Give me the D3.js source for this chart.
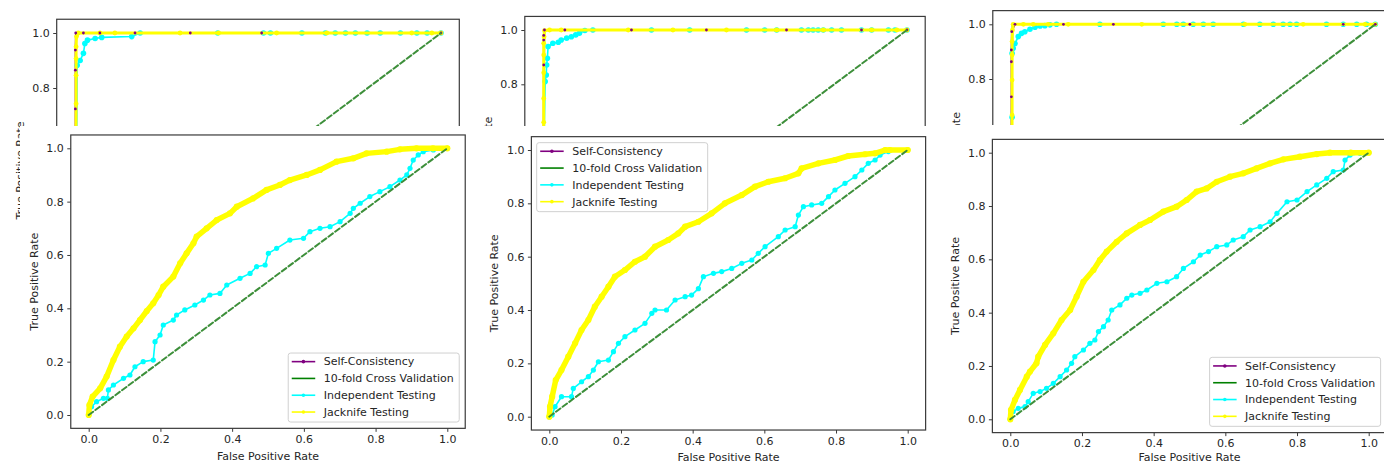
<!DOCTYPE html>
<html><head><meta charset="utf-8">
<script src="https://cdn.jsdelivr.net/npm/d3@7"></script>
<style>body{margin:0;background:#fff} svg{display:block} text{font-family:"DejaVu Sans",sans-serif;}</style>
</head><body><svg id="c" width="1384" height="465"></svg>
<script>
const seriesNames = ["Self-Consistency","10-fold Cross Validation","Independent Testing","Jacknife Testing"];
const xTicks = [0,0.2,0.4,0.6,0.8,1.0];
const yTicksBottom = [0,0.2,0.4,0.6,0.8,1.0];
const yTicksTop = [0.8,1.0];
const xLabel = "False Positive Rate";
const yLabel = "True Positive Rate";

// ---- top (zoomed-in) figures : [FPR, TPR]
const top1Self = [[0,0],[0.001,0.724],[0.001,0.865],[0.001,0.938],[0.002,1.0],[0.023,1],[0.068,1],[0.164,1],[0.315,1],[0.51,1],[1,1]];
const top1CV = [[0,0],[0.002,0.6],[0.003,0.98],[0.004,1],[1,1]];
const top1Indep = [[0,0],[0.004,0.5],[0.006,0.883],[0.014,0.90],[0.023,0.926],[0.027,0.962],[0.034,0.974],[0.055,0.98],[0.073,0.984],[0.155,0.987],[0.178,1],[0.39,1],[0.515,1],[0.534,1],[0.62,1],[0.684,1],[0.711,1],[0.739,1],[0.766,1],[0.798,1],[0.834,1],[0.889,1],[0.934,1],[0.962,1],[1,1]];
const top1Jack = [[0,0],[0.003,0.743],[0.003,0.846],[0.003,0.907],[0.003,0.95],[0.004,0.987],[0.009,1],[0.068,1],[0.109,1],[0.287,1],[0.392,1],[0.551,1],[0.688,1],[0.92,1],[0.975,1],[1,1]];

const top2Self = [[0,0],[0.002,0.871],[0.002,0.963],[0.002,0.98],[0.004,1],[0.06,1],[0.243,1],[0.449,1],[0.669,1],[0.875,1],[1,1]];
const top2CV = [[0,0],[0.003,0.7],[0.004,1],[1,1]];
const top2Indep = [[0,0],[0.003,0.6],[0.006,0.81],[0.009,0.834],[0.01,0.871],[0.012,0.896],[0.014,0.939],[0.027,0.951],[0.042,0.955],[0.05,0.963],[0.065,0.97],[0.078,0.975],[0.09,0.982],[0.1,0.988],[0.115,0.998],[0.137,1],[0.298,1],[0.403,1],[0.559,1],[0.609,1],[0.642,1],[0.71,1],[0.729,1],[0.742,1],[0.756,1],[0.77,1],[0.793,1],[0.82,1],[0.875,1],[0.903,1],[0.949,1],[0.967,1],[1,1]];
const top2Jack = [[0,0],[0.002,0.66],[0.002,0.748],[0.002,0.843],[0.002,0.908],[0.002,0.951],[0.003,0.975],[0.004,0.998],[0.018,1],[0.05,1],[0.234,1],[0.357,1],[0.504,1],[0.642,1],[0.77,1],[0.903,1],[0.972,1],[1,1]];

const top3Self = [[0,0],[0.001,0.735],[0.001,0.863],[0.001,0.906],[0.002,0.973],[0.011,1],[0.144,1],[0.281,1],[0.491,1],[0.912,1],[1,1]];
const top3CV = [[0,0],[0.003,0.7],[0.004,1],[1,1]];
const top3Indep = [[0,0],[0.003,0.66],[0.003,0.894],[0.006,0.912],[0.011,0.93],[0.02,0.955],[0.029,0.967],[0.038,0.973],[0.052,0.982],[0.066,0.989],[0.08,0.994],[0.093,0.995],[0.107,0.998],[0.125,1],[0.244,1],[0.418,1],[0.455,1],[0.473,1],[0.5,1],[0.528,1],[0.555,1],[0.638,1],[0.683,1],[0.72,1],[0.747,1],[0.766,1],[0.784,1],[0.866,1],[0.912,1],[0.949,1],[0.976,1],[1,1]];
const top3Jack = [[0,0],[0.003,0.668],[0.003,0.796],[0.003,0.888],[0.003,0.937],[0.004,0.979],[0.006,1],[0.034,1],[0.061,1],[0.102,1],[0.157,1],[0.359,1],[0.642,1],[0.802,1],[0.972,1],[1,1]];

// ---- bottom figures
const bot1Jack = [[0,0],[0.002,0.0375],[0.011,0.069],[0.032,0.10],[0.05,0.144],[0.069,0.206],[0.087,0.256],[0.106,0.294],[0.125,0.325],[0.143,0.356],[0.162,0.39],[0.18,0.419],[0.195,0.45],[0.208,0.481],[0.236,0.519],[0.255,0.569],[0.273,0.606],[0.292,0.644],[0.301,0.669],[0.329,0.70],[0.357,0.731],[0.394,0.756],[0.413,0.781],[0.459,0.8125],[0.496,0.844],[0.533,0.8625],[0.561,0.881],[0.608,0.90],[0.645,0.919],[0.691,0.95],[0.738,0.9625],[0.775,0.981],[0.831,0.9875],[0.868,0.996],[0.914,1.0],[0.96,1.0],[1,1]];
const bot1Indep = [[0,0],[0.008,0.031],[0.022,0.05],[0.041,0.0625],[0.052,0.0625],[0.055,0.094],[0.069,0.1125],[0.097,0.1375],[0.115,0.15],[0.129,0.181],[0.152,0.20],[0.18,0.206],[0.185,0.275],[0.199,0.30],[0.208,0.3375],[0.236,0.356],[0.245,0.375],[0.268,0.394],[0.296,0.4125],[0.32,0.431],[0.338,0.45],[0.366,0.456],[0.385,0.4875],[0.422,0.5125],[0.45,0.531],[0.468,0.556],[0.492,0.5625],[0.501,0.606],[0.524,0.625],[0.561,0.656],[0.599,0.6625],[0.617,0.6875],[0.645,0.70],[0.673,0.706],[0.701,0.725],[0.729,0.756],[0.738,0.775],[0.757,0.794],[0.784,0.819],[0.812,0.8375],[0.84,0.856],[0.868,0.881],[0.887,0.90],[0.896,0.925],[0.905,0.956],[0.919,0.975],[0.933,0.9875],[0.961,0.994],[1,1]];

const bot2Jack = [[0,0],[0.002,0.0375],[0.008,0.075],[0.018,0.1375],[0.034,0.175],[0.053,0.225],[0.072,0.275],[0.09,0.325],[0.109,0.3625],[0.127,0.4125],[0.146,0.45],[0.165,0.4875],[0.183,0.525],[0.211,0.55],[0.239,0.581],[0.267,0.60],[0.295,0.6375],[0.332,0.6625],[0.36,0.6875],[0.379,0.7125],[0.416,0.731],[0.453,0.7625],[0.49,0.80],[0.537,0.831],[0.574,0.8625],[0.611,0.881],[0.658,0.894],[0.695,0.9125],[0.704,0.931],[0.751,0.95],[0.797,0.9625],[0.834,0.9775],[0.881,0.984],[0.909,0.9875],[0.937,1.0],[0.95,1.0],[1,1]];
const bot2Indep = [[0,0],[0.008,0.006],[0.016,0.0375],[0.034,0.075],[0.062,0.075],[0.067,0.106],[0.09,0.131],[0.109,0.15],[0.123,0.175],[0.137,0.206],[0.165,0.2125],[0.179,0.244],[0.193,0.275],[0.211,0.30],[0.239,0.325],[0.267,0.35],[0.286,0.3875],[0.295,0.40],[0.327,0.40],[0.351,0.4375],[0.379,0.45],[0.397,0.456],[0.416,0.48],[0.43,0.525],[0.458,0.5375],[0.481,0.544],[0.509,0.556],[0.537,0.575],[0.565,0.5875],[0.583,0.6125],[0.602,0.6375],[0.639,0.675],[0.658,0.70],[0.686,0.7125],[0.695,0.756],[0.709,0.7875],[0.732,0.794],[0.76,0.80],[0.779,0.825],[0.797,0.85],[0.825,0.875],[0.853,0.90],[0.872,0.925],[0.89,0.95],[0.909,0.9625],[0.923,0.981],[0.946,0.994],[1,1]];

const bot3Jack = [[0,0],[0.002,0.035],[0.013,0.0725],[0.027,0.11],[0.046,0.16],[0.055,0.179],[0.073,0.21],[0.078,0.235],[0.097,0.279],[0.12,0.3225],[0.143,0.3725],[0.167,0.41],[0.185,0.46],[0.204,0.516],[0.232,0.56],[0.25,0.5975],[0.269,0.629],[0.297,0.666],[0.325,0.6975],[0.362,0.729],[0.39,0.7475],[0.427,0.779],[0.464,0.7975],[0.492,0.8225],[0.52,0.854],[0.548,0.866],[0.576,0.891],[0.613,0.91],[0.65,0.9225],[0.687,0.941],[0.725,0.96],[0.762,0.975],[0.808,0.985],[0.855,0.995],[0.892,1.0],[0.95,1.0],[1,1]];
const bot3Indep = [[0,0],[0.008,0.029],[0.022,0.041],[0.041,0.0475],[0.05,0.066],[0.064,0.0975],[0.083,0.104],[0.101,0.116],[0.12,0.135],[0.139,0.16],[0.157,0.185],[0.171,0.21],[0.18,0.235],[0.204,0.26],[0.222,0.285],[0.236,0.2975],[0.246,0.329],[0.26,0.3475],[0.273,0.3725],[0.283,0.41],[0.306,0.429],[0.325,0.454],[0.339,0.466],[0.362,0.4725],[0.381,0.485],[0.409,0.51],[0.437,0.516],[0.464,0.535],[0.483,0.566],[0.511,0.591],[0.53,0.616],[0.553,0.629],[0.576,0.6475],[0.604,0.654],[0.622,0.6725],[0.65,0.685],[0.669,0.71],[0.697,0.7225],[0.725,0.741],[0.744,0.7725],[0.772,0.816],[0.8,0.8225],[0.828,0.854],[0.855,0.879],[0.883,0.904],[0.901,0.929],[0.929,0.935],[0.934,0.9725],[0.948,0.991],[0.976,0.9975],[1,1]];

const diagonal = [[0,0],[1,1]];

// ---- styles
const C = {self:"#800080", cv:"#008000", indep:"#00ffff", jack:"#ffff00", diag:"#3d8f3a", frame:"#3a3a3a", text:"#262626"};

const svg = d3.select("#c");
svg.append("rect").attr("width",1384).attr("height",465).attr("fill","#fff");

function makeScales(p){
  return {
    x: d3.scaleLinear().domain([0,1]).range([p.x0,p.x1]),
    y: d3.scaleLinear().domain([0,1]).range([p.y0,p.y1])
  };
}
function series(g, s, data, color, lw, r, opts={}){
  const line = d3.line().x(d=>s.x(d[0])).y(d=>s.y(d[1]));
  const p = g.append("path").datum(data).attr("d",line).attr("fill","none")
    .attr("stroke",color).attr("stroke-width",lw).attr("stroke-linejoin","round").attr("stroke-linecap","round");
  if(opts.dash) p.attr("stroke-dasharray",opts.dash);
  if(r>0){
    g.append("g").selectAll("circle").data(data).join("circle")
      .attr("cx",d=>s.x(d[0])).attr("cy",d=>s.y(d[1])).attr("r",r).attr("fill",color);
  }
}
function frameAndAxes(g, s, yTicks, showX){
  const fx0 = s.x(-0.05), fx1 = s.x(1.05), fy0 = s.y(-0.05), fy1 = s.y(1.05);
  const ya = d3.axisLeft(s.y).tickValues(yTicks).tickFormat(d3.format(".1f")).tickSize(3.5).tickPadding(3.5);
  const yg = g.append("g").attr("transform",`translate(${fx0},0)`).call(ya);
  yg.select(".domain").remove();
  if(showX){
    const xa = d3.axisBottom(s.x).tickValues(xTicks).tickFormat(d3.format(".1f")).tickSize(3.5).tickPadding(3.5);
    const xg = g.append("g").attr("transform",`translate(0,${fy0})`).call(xa);
    xg.select(".domain").remove();
    g.append("text").attr("x",(fx0+fx1)/2).attr("y",Math.min(fy0+27.5,457.5)).attr("dy","0.35em")
      .attr("text-anchor","middle").attr("font-size",11).attr("fill",C.text).text(xLabel);
  }
  g.selectAll(".tick line").attr("stroke",C.frame);
  g.selectAll(".tick text").attr("font-size",11).attr("fill",C.text).attr("font-family","DejaVu Sans");
  g.append("text").attr("transform",`translate(${fx0-37},${(fy0+fy1)/2}) rotate(-90)`).attr("dy","0.35em")
    .attr("text-anchor","middle").attr("font-size",11).attr("fill",C.text).text(yLabel);
  return {fx0,fx1,fy0,fy1};
}
function frameRect(g,f){
  g.append("rect").attr("x",f.fx0).attr("y",f.fy1).attr("width",f.fx1-f.fx0).attr("height",f.fy0-f.fy1)
    .attr("fill","none").attr("stroke",C.frame).attr("stroke-width",1.2);
}

// ---- top charts
const tops = [
  {p:{x0:75,x1:441,y0:308,y1:33}, self:top1Self, cv:top1CV, indep:top1Indep, jack:top1Jack},
  {p:{x0:543,x1:907,y0:301.5,y1:30}, self:top2Self, cv:top2CV, indep:top2Indep, jack:top2Jack},
  {p:{x0:1011,x1:1375.3,y0:297.8,y1:24.3}, self:top3Self, cv:top3CV, indep:top3Indep, jack:top3Jack}
];
tops.forEach(t=>{
  const g = svg.append("g"); const s = makeScales(t.p);
  const f = frameAndAxes(g, s, yTicksTop, false);
  series(g,s,t.self,C.self,1.5,0);
  series(g,s,t.cv,C.cv,1.5,0);
  series(g,s,t.indep,C.indep,1.6,2.8);
  series(g,s,t.jack,C.jack,3,2.4);
  g.append("g").selectAll("circle").data(t.self).join("circle")
    .attr("cx",d=>s.x(d[0])).attr("cy",d=>s.y(d[1])).attr("r",1.4).attr("fill",C.self);
  series(g,s,diagonal,C.diag,2,0,{dash:"5.5,2.8"});
  frameRect(g,f);
});

// ---- white backgrounds of the lower figures
const covers = [[20,126,447,339],[467,126,463,339],[930,125,454,340]];
covers.forEach(c=>svg.append("rect").attr("x",c[0]).attr("y",c[1]).attr("width",c[2]).attr("height",c[3]).attr("fill","#fff"));

// ---- bottom charts
const bots = [
  {p:{x0:88.7,x1:447.3,y0:415,y1:148.3}, indep:bot1Indep, jack:bot1Jack, legend:"br"},
  {p:{x0:549.3,x1:907.7,y0:416.7,y1:150}, indep:bot2Indep, jack:bot2Jack, legend:"tl"},
  {p:{x0:1010.3,x1:1368.7,y0:419.3,y1:152.7}, indep:bot3Indep, jack:bot3Jack, legend:"br"}
];
const legendColors = [C.self, C.cv, C.indep, C.jack];
const legendMarker = [true,false,true,true];
bots.forEach(b=>{
  const g = svg.append("g"); const s = makeScales(b.p);
  const f = frameAndAxes(g, s, yTicksBottom, true);
  series(g,s,b.indep,C.indep,1.6,2.6);
  series(g,s,b.jack,C.jack,5.5,3.1);
  series(g,s,diagonal,C.diag,2,0,{dash:"5.5,2.8"});
  frameRect(g,f);
  const lw = 171, lh = 69;
  const lx = b.legend==="br" ? f.fx1-6-lw : f.fx0+5.3;
  const ly = b.legend==="br" ? f.fy0-6.3-lh : f.fy1+6;
  const lg = g.append("g").attr("transform",`translate(${lx},${ly})`);
  lg.append("rect").attr("width",lw).attr("height",lh).attr("rx",2.5).attr("fill","#fff").attr("fill-opacity",0.85)
    .attr("stroke","#d0d0d0").attr("stroke-width",1);
  seriesNames.forEach((n,i)=>{
    const cy = 8.6 + i*16.8;
    lg.append("line").attr("x1",3.5).attr("x2",27).attr("y1",cy).attr("y2",cy).attr("stroke",legendColors[i]).attr("stroke-width",1.6);
    if(legendMarker[i]) lg.append("circle").attr("cx",15.2).attr("cy",cy).attr("r",1.8).attr("fill",legendColors[i]);
    lg.append("text").attr("x",35.5).attr("y",cy).attr("dy","0.35em").attr("font-size",11).attr("fill",C.text).text(n);
  });
});
</script></body></html>
